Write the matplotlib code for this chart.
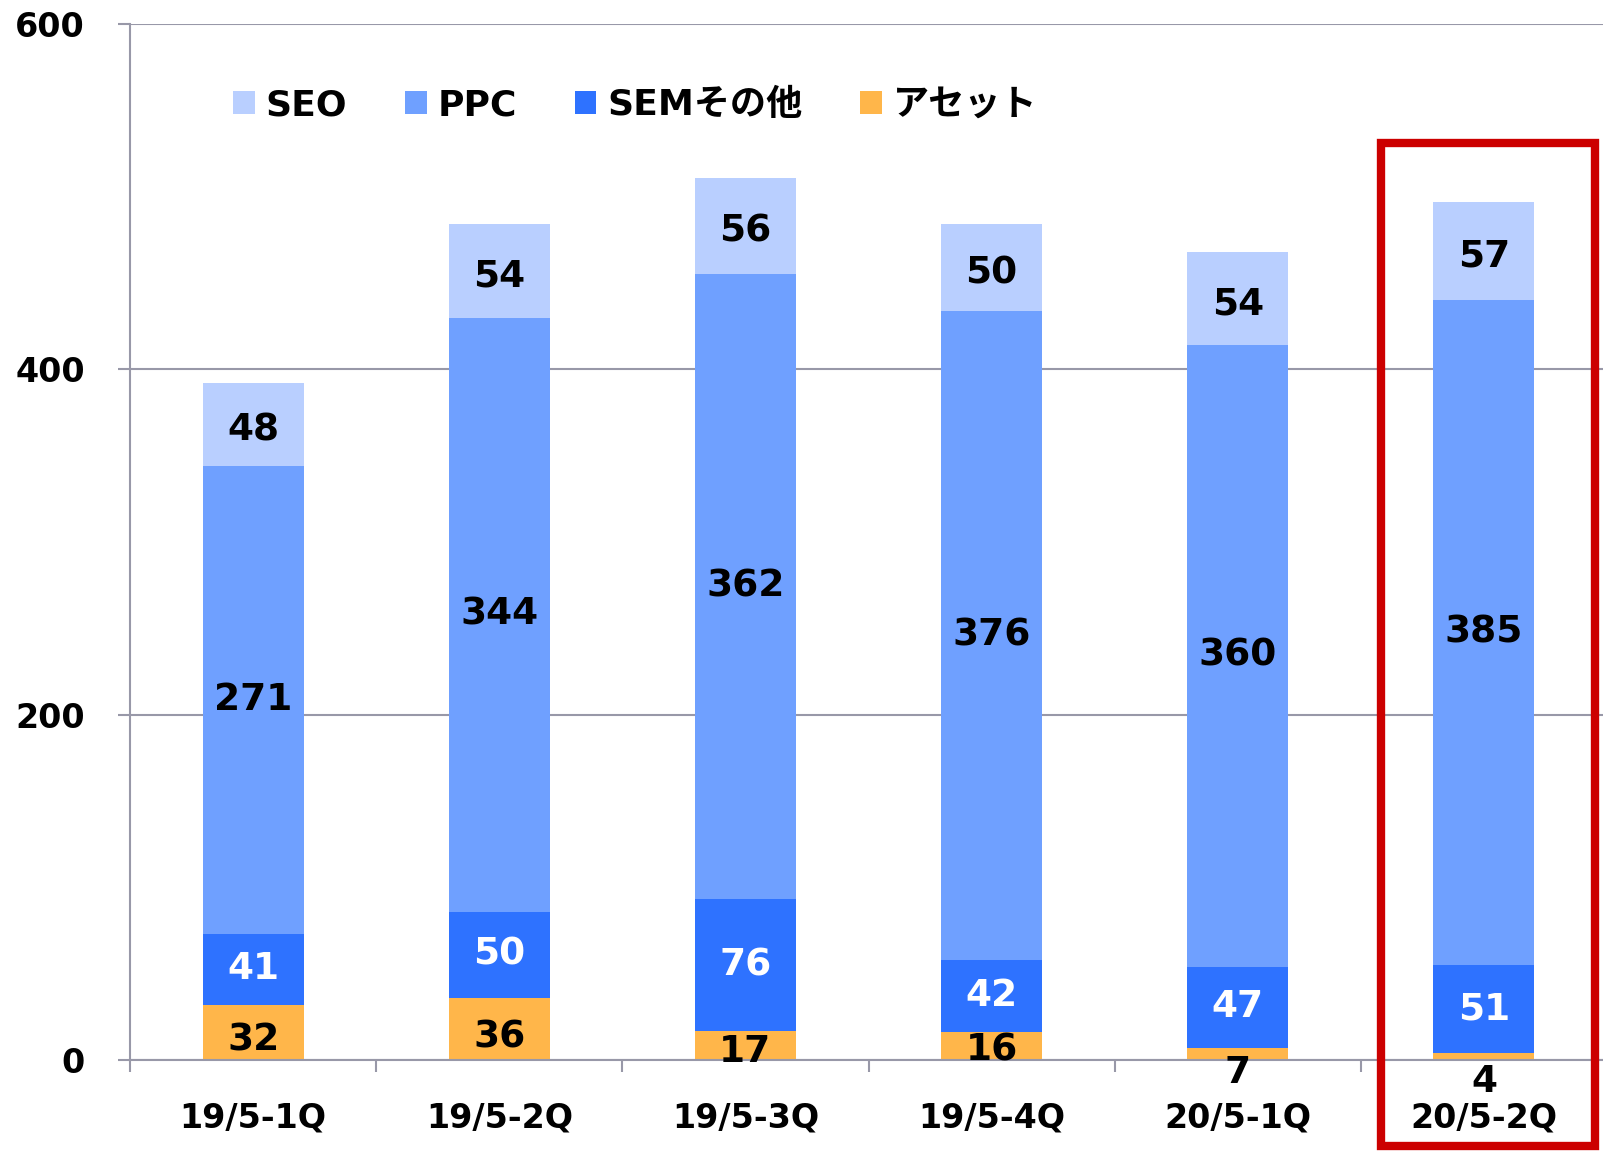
import numpy as np
import matplotlib.pyplot as plt
from matplotlib.patches import Rectangle

plt.rcParams['font.family'] = ['DejaVu Sans', 'Noto Sans CJK JP']
plt.rcParams['font.weight'] = 'bold'

# data
quarters = ['19/5-1Q', '19/5-2Q', '19/5-3Q', '19/5-4Q', '20/5-1Q', '20/5-2Q']
asset = [32, 36, 17, 16, 7, 4]
sem_other = [41, 50, 76, 42, 47, 51]
ppc = [271, 344, 362, 376, 360, 385]
seo = [48, 54, 56, 50, 54, 57]
y_ticks = [0, 200, 400, 600]

W, H = 1603, 1151
fig = plt.figure(figsize=(W / 100, H / 100), dpi=100)
ax = fig.add_axes([130 / W, 1 - 1060 / H, 1477 / W, (1060 - 24) / H])

x = np.arange(len(quarters))
bw = 0.41
grid_col = '#9898A8'

series = [
    ('アセット', asset, '#FFB64A', 'black'),
    ('SEMその他', sem_other, '#2E72FF', 'white'),
    ('PPC', ppc, '#6FA0FF', 'black'),
    ('SEO', seo, '#B9CFFF', 'black'),
]

bottom = np.zeros(len(quarters))
handles = {}
for name, vals, col, tcol in series:
    vals = np.array(vals, dtype=float)
    bars = ax.bar(x, vals, bw, bottom=bottom, color=col, edgecolor='none', zorder=2)
    handles[name] = bars
    for i, (b, v) in enumerate(zip(bottom, vals)):
        dy = 0
        if name == 'SEO':
            dy = -4
        elif name == 'アセット':
            # small segments: Excel pushes the label down under the axis
            dy = {2: -5, 3: -3, 4: -14, 5: -18}.get(i, -6)
        ax.annotate(f'{int(v)}', (x[i], b + v / 2), xytext=(0, dy),
                    textcoords='offset points', ha='center', va='center',
                    fontsize=27, fontweight='bold', color=tcol, zorder=4,
                    annotation_clip=False)
    bottom += vals

ax.set_xlim(-0.5, len(quarters) - 0.5)
ax.set_ylim(0, 600)
ax.set_yticks(y_ticks)
ax.set_yticklabels([str(t) for t in y_ticks], fontsize=24, fontweight='bold')
ax.set_xticks(x)
ax.set_xticklabels(quarters, fontsize=24, fontweight='bold')
ax.set_xticks(np.arange(-0.5, len(quarters), 1), minor=True)
ax.tick_params(axis='x', which='major', length=0, pad=30)
ax.tick_params(axis='x', which='minor', length=8.5, width=1.5, color=grid_col, direction='out')
ax.tick_params(axis='y', length=8.5, width=1.5, color=grid_col, pad=24)

ax.grid(axis='y', color=grid_col, linewidth=1.5, zorder=0)
ax.set_axisbelow(True)
for s in ['top', 'right']:
    ax.spines[s].set_visible(False)
for s in ['left', 'bottom']:
    ax.spines[s].set_color(grid_col)
    ax.spines[s].set_linewidth(1.5)
    ax.spines[s].set_zorder(3)

order = ['SEO', 'PPC', 'SEMその他', 'アセット']
ax.legend([handles[n] for n in order], order, ncol=4, frameon=False,
          prop={'size': 26, 'weight': 'bold'},
          handlelength=0.6, handleheight=0.6, handletextpad=0.3,
          columnspacing=1.6, borderpad=0, borderaxespad=0,
          loc='center left', bbox_to_anchor=(233 / W, 1 - 105 / H),
          bbox_transform=fig.transFigure)

# red highlight box around the latest quarter
fig.patches.append(Rectangle((1381 / W, 1 - 1146 / H), (1595 - 1381) / W, (1146 - 143) / H,
                             transform=fig.transFigure, fill=False,
                             edgecolor='#CC0000', linewidth=6, zorder=10))

fig.savefig('out.png', dpi=100)
